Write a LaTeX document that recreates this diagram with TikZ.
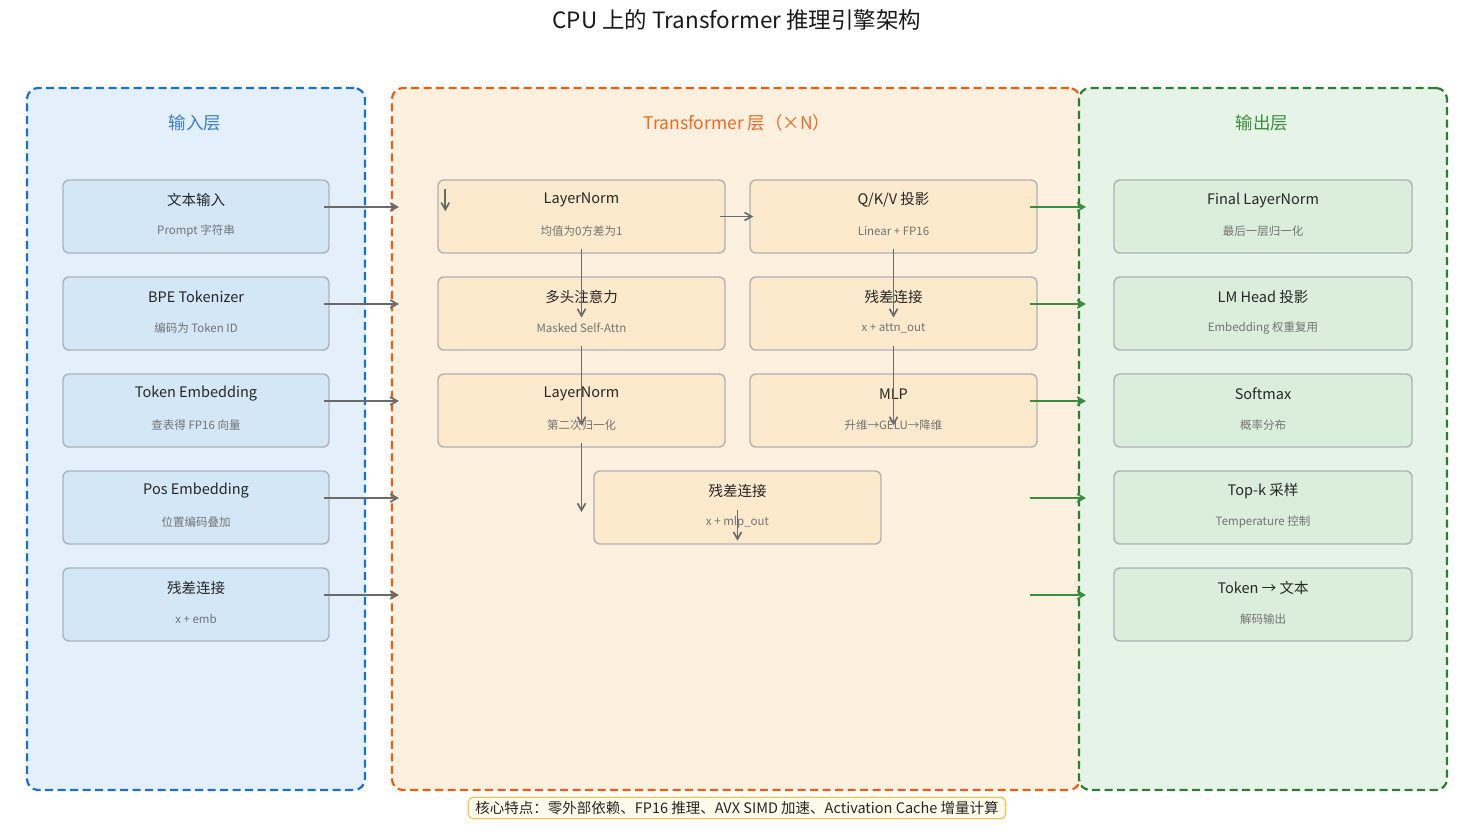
\documentclass[tikz,border=0pt]{standalone}
\usepackage{fontspec}
\setmainfont{Noto Sans CJK SC}
\usetikzlibrary{arrows.meta,positioning}

\definecolor{inline}{HTML}{1E6FC8}
\definecolor{inpanelfill}{HTML}{E3F0FB}
\definecolor{inboxfill}{HTML}{D4E7F7}
\definecolor{intext}{HTML}{3A7DCC}
\definecolor{midline}{HTML}{EC5E12}
\definecolor{midpanelfill}{HTML}{FEF0DF}
\definecolor{midboxfill}{HTML}{FDE9CC}
\definecolor{midtext}{HTML}{F06A22}
\definecolor{outline}{HTML}{2E7D32}
\definecolor{outpanelfill}{HTML}{E6F4E7}
\definecolor{outboxfill}{HTML}{DAEEDB}
\definecolor{outtext}{HTML}{3A8E3F}
\definecolor{cardline}{HTML}{AEB3B6}
\definecolor{arrowgray}{HTML}{6A6A6A}
\definecolor{notefill}{HTML}{FFFBEA}
\definecolor{noteline}{HTML}{F2C35E}

\begin{document}
\begin{tikzpicture}
  [
    x=1pt, y=-1pt,
    >={Straight Barb[length=7pt,width=8pt]},
    panel/.style     = {dash pattern=on 8pt off 4.5pt, line width=2.2pt, rounded corners=11pt,
                        minimum height=702, inner sep=0},
    card/.style      = {draw=cardline, line width=1.4pt, rounded corners=6pt,
                        minimum height=73, inner sep=0},
    headtext/.style  = {font=\fontsize{14.5}{16}\selectfont, text=black!85, inner sep=0},
    subtext/.style   = {font=\fontsize{11.5}{13}\selectfont, text=black!55, inner sep=0},
    paneltitle/.style= {font=\fontsize{17.5}{19}\selectfont, inner sep=0},
    flow/.style      = {->, draw=arrowgray, line width=1.7pt},
    outflow/.style   = {->, draw=outtext, line width=1.7pt},
  ]

%Page frame
\useasboundingbox (0,0) rectangle (1476,834);

%Row positions and spacing
\def \ytop{216.5}
\def \ystep{97}
\def \dtitle{16.5}
\def \dsub{14.5}

%Title
\node[font=\fontsize{22.5}{26}\selectfont, text=black!90] (title) at (737,20) {CPU 上的 Transformer 推理引擎架构};

%The three layer panels
\node[panel, draw=inline, fill=inpanelfill, minimum width=338] (inpanel) at (196,439) {};
\node[panel, draw=midline, fill=midpanelfill, minimum width=688] (midpanel) at (736,439) {};
\node[panel, draw=outline, fill=outpanelfill, minimum width=368] (outpanel) at (1263,439) {};

\node[paneltitle, text=intext] (intitle) at (195,123) {输入层};
\node[paneltitle, text=midtext] (midtitle) at (737,123) {Transformer 层（×N）};
\node[paneltitle, text=outtext] (outtitle) at (1262,123) {输出层};

%Input layer cards
\foreach \t/\s [count=\i] in {文本输入/Prompt 字符串, BPE Tokenizer/编码为 Token ID,
    Token Embedding/查表得 FP16 向量, Pos Embedding/位置编码叠加, 残差连接/x + emb}
{
\node[card, fill=inboxfill, minimum width=266] (in\i) at (196,{\ytop+(\i-1)*\ystep}) {};
\node[headtext] (in\i-t) at ([yshift=\dtitle pt]in\i.center) {\t};
\node[subtext] (in\i-s) at ([yshift=-\dsub pt]in\i.center) {\s};
}

%Output layer cards
\foreach \t/\s [count=\i] in {Final LayerNorm/最后一层归一化, LM Head 投影/Embedding 权重复用,
    Softmax/概率分布, Top-k 采样/Temperature 控制, Token → 文本/解码输出}
{
\node[card, fill=outboxfill, minimum width=298] (out\i) at (1263,{\ytop+(\i-1)*\ystep}) {};
\node[headtext] (out\i-t) at ([yshift=\dtitle pt]out\i.center) {\t};
\node[subtext] (out\i-s) at ([yshift=-\dsub pt]out\i.center) {\s};
}

%Transformer block cards
\foreach \n/\x/\y/\t/\s in {mln1/581.5/216.5/LayerNorm/均值为0方差为1,
    qkv/893.5/216.5/{Q/K/V 投影}/Linear + FP16,
    attn/581.5/313.5/多头注意力/Masked Self-Attn,
    res1/893.5/313.5/残差连接/x + attn\_out,
    mln2/581.5/410.5/LayerNorm/第二次归一化,
    mlp/893.5/410.5/MLP/升维→GELU→降维,
    res2/737.5/507.5/残差连接/x + mlp\_out}
{
\node[card, fill=midboxfill, minimum width=287] (\n) at (\x,\y) {};
\node[headtext] (\n-t) at ([yshift=\dtitle pt]\n.center) {\t};
\node[subtext] (\n-s) at ([yshift=-\dsub pt]\n.center) {\s};
}

%Arrows from the input layer
\foreach \i in {1,...,5}
{
\coordinate (a\i) at ([shift={(-6,-9.5)}]in\i.east);
\draw[flow] (a\i) -- ([xshift=8pt]a\i -| midpanel.west);
}

%Arrows into the output layer
\foreach \i in {1,...,5}
{
\coordinate (b\i) at ([yshift=9.5pt]out\i.west -| outpanel.west);
\draw[outflow] ([xshift=-48pt]b\i) -- ([xshift=8pt]b\i);
}

%Flow inside the block
\draw[flow] ([shift={(8,10)}]mln1.north west) -- ([shift={(8,32)}]mln1.north west);
\draw[flow] ([xshift=-6pt]mln1.east) -- ([xshift=4pt]qkv.west);
\draw[flow] ([yshift=5pt]mln1.south) -- ([yshift=-4pt]attn.center);
\draw[flow] ([yshift=5pt]attn.south) -- ([yshift=-15pt]mln2.center);
\draw[flow] ([yshift=5pt]mln2.south) -- ([yshift=-4.5pt]mln2.south |- res2.center);
\draw[flow] ([yshift=5pt]qkv.south) -- ([yshift=-4pt]res1.center);
\draw[flow] ([yshift=5pt]res1.south) -- ([yshift=-15pt]mlp.center);
\draw[flow] ([yshift=-2.5pt]res2.center) -- ([yshift=4pt]res2.south);

%Key features note
\node[draw=noteline, fill=notefill, line width=1.2pt, rounded corners=5pt,
      font=\fontsize{14.5}{16}\selectfont, text=black!85, inner xsep=7pt, inner ysep=4pt]
      (note) at (737,808) {核心特点：零外部依赖、FP16 推理、AVX SIMD 加速、Activation Cache 增量计算};
\end{tikzpicture}
\end{document}
